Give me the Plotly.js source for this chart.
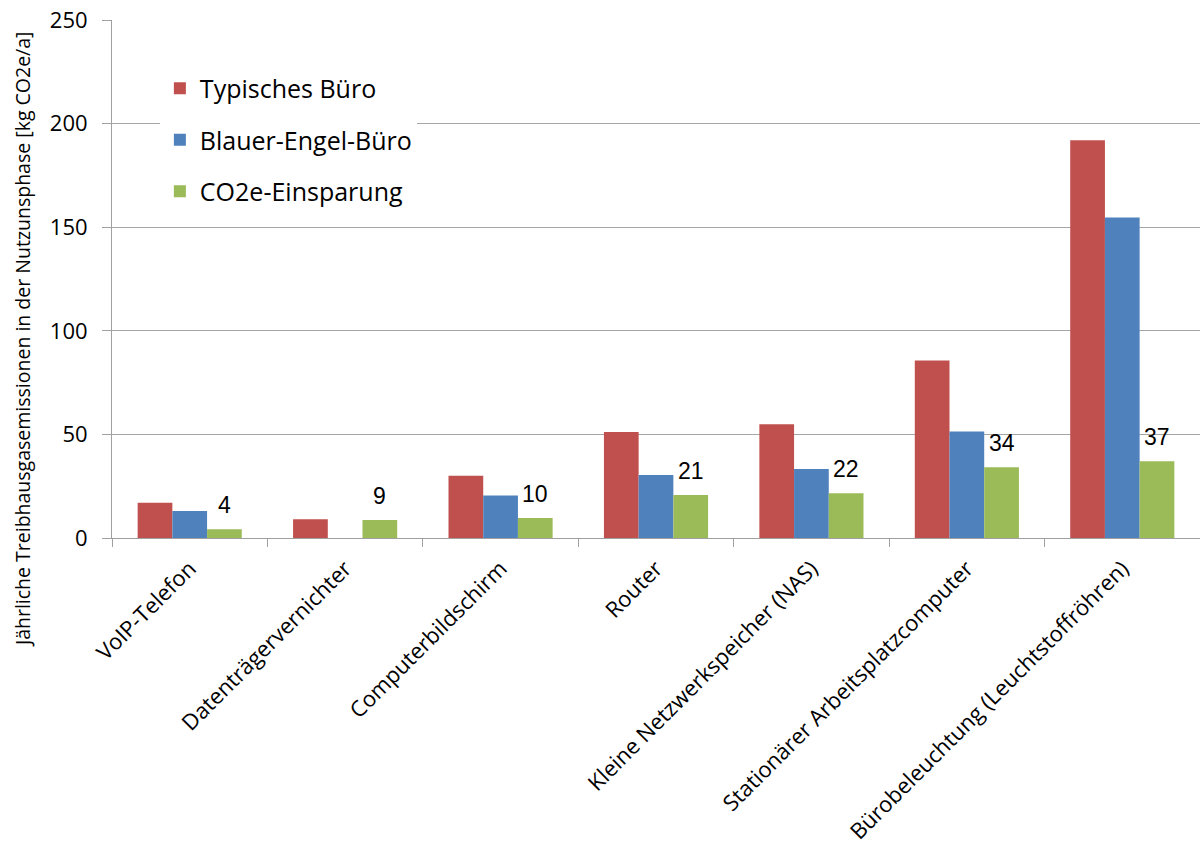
<!DOCTYPE html>
<html>
<head>
<meta charset="utf-8">
<script src="https://cdn.plot.ly/plotly-3.0.1.min.js"></script>
<style>html,body{margin:0;padding:0;background:#fff;}#chart{width:1200px;height:848px;}</style>
</head>
<body>
<div id="chart"></div>
<script>
const categories = [
  "VoIP-Telefon",
  "Datenträgervernichter",
  "Computerbildschirm",
  "Router",
  "Kleine Netzwerkspeicher (NAS)",
  "Stationärer Arbeitsplatzcomputer",
  "Bürobeleuchtung (Leuchtstoffröhren)"
];
const typischesBuero = [17.0, 9.0, 30.0, 51.2, 54.9, 85.7, 192.0];
const blauerEngelBuero = [13.0, 0, 20.5, 30.4, 33.3, 51.4, 154.7];
const einsparung = [4.2, 8.7, 9.6, 20.7, 21.6, 34.2, 37.1];
const seriesNames = ["Typisches Büro", "Blauer-Engel-Büro", "CO2e-Einsparung"];
const yTicks = [0, 50, 100, 150, 200, 250];
const yTitle = "Jährliche Treibhausgasemissionen in der Nutzunsphase [kg CO2e/a]";

const colors = ["#C0504D", "#4F81BD", "#9BBB59"];
const uiFont = "Open Sans, sans-serif";

const traces = [typischesBuero, blauerEngelBuero, einsparung].map((vals, i) => ({
  type: "bar",
  name: seriesNames[i],
  x: categories,
  y: vals,
  marker: {color: colors[i], line: {width: 0}},
  legendgroup: "g" + i,
  hoverinfo: "x+y+name"
}));

const labelAnnotations = categories.map((c, i) => ({
  x: c, y: einsparung[i], xref: "x", yref: "y",
  text: String(Math.round(einsparung[i])),
  showarrow: false, xshift: 34.8, yshift: 9, yanchor: "bottom", xanchor: "center",
  font: {family: "Liberation Sans, Arial, sans-serif", size: 23, color: "#000"}
}));

const layout = {
  width: 1200, height: 848,
  margin: {l: 112, r: 0, t: 20, b: 310},
  paper_bgcolor: "#fff", plot_bgcolor: "#fff",
  barmode: "group", bargap: 0.33, bargroupgap: 0,
  showlegend: true,
  legend: {
    x: 0.044, y: 0.912, xanchor: "left", yanchor: "top",
    bgcolor: "#fff", borderwidth: 0,
    font: {family: uiFont, size: 25, color: "#000"},
    tracegroupgap: 16
  },
  xaxis: {
    type: "category",
    tickangle: -45,
    ticks: "outside", ticklen: 8, tickcolor: "#A0A0A0", tickson: "boundaries",
    showline: true, linecolor: "#A0A0A0", linewidth: 1,
    showgrid: false,
    ticklabelstandoff: 8,
    tickfont: {family: uiFont, size: 22, color: "#000"}
  },
  yaxis: {
    range: [0, 250], tickvals: yTicks, ticktext: yTicks.map(String),
    ticks: "outside", ticklen: 9, tickcolor: "#A0A0A0",
    showline: true, linecolor: "#A0A0A0", linewidth: 1,
    showgrid: true, gridcolor: "#A6A6A6", gridwidth: 1,
    zeroline: false,
    ticklabelstandoff: 10,
    tickfont: {family: uiFont, size: 22, color: "#000"}
  },
  annotations: [
    {
      xref: "paper", yref: "paper", x: -0.0827, y: 0.384,
      xanchor: "center", yanchor: "middle", textangle: -90,
      text: yTitle, showarrow: false,
      font: {family: uiFont, size: 19.5, color: "#000"}
    }
  ].concat(labelAnnotations)
};

Plotly.newPlot("chart", traces, layout, {displayModeBar: false, staticPlot: true});
</script>
</body>
</html>
